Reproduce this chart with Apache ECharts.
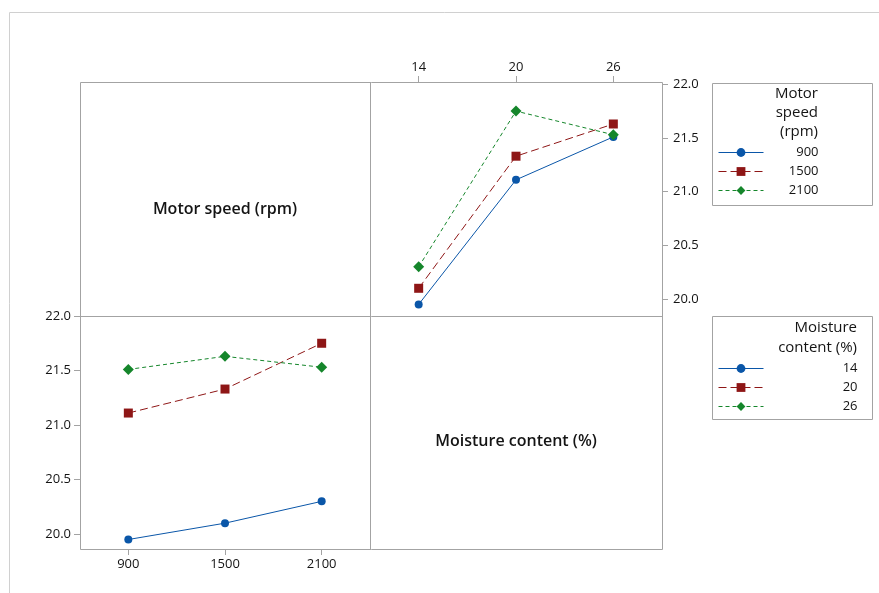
<!DOCTYPE html>
<html>
<head>
<meta charset="utf-8">
<script src="https://cdn.jsdelivr.net/npm/echarts@6/dist/echarts.min.js"></script>
<style>html,body{margin:0;padding:0;background:#fff;}#c{width:879px;height:593px;}</style>
</head>
<body>
<div id="c"></div>
<script>
// Categories
const moisture = ['14', '20', '26'];
const speeds = ['900', '1500', '2100'];
// Mean response for each motor speed across moisture content 14, 20, 26
const speed900 = [19.95, 21.11, 21.51];
const speed1500 = [20.10, 21.33, 21.63];
const speed2100 = [20.30, 21.75, 21.53];
// Tick labels of value axes
const yTicks = [20.0, 20.5, 21.0, 21.5, 22.0];

const rows = [speed900, speed1500, speed2100];
const byMoisture = moisture.map((m, j) => rows.map(r => r[j]));

const FONT = "'Open Sans', 'Noto Sans', sans-serif";
const TXT = '#141414';
const GRAY = '#a3a3a3';
const colors = ['#0a56a8', '#8e1616', '#15862b'];
const symbols = ['circle', 'rect', 'diamond'];
const symSizes = [8, 9, 11];
const dashes = ['solid', [8, 4], [4, 3]];

const chart = echarts.init(document.getElementById('c'), null, {renderer: 'canvas'});

function mkSeries(names, datas, xi, yi) {
  return names.map((n, i) => ({
    name: n, type: 'line', xAxisIndex: xi, yAxisIndex: yi,
    data: datas[i], symbol: symbols[i], symbolSize: symSizes[i],
    itemStyle: {color: colors[i]},
    lineStyle: {color: colors[i], width: 1, type: dashes[i]},
    emphasis: {disabled: true}, animation: false
  }));
}

const axisLabelBase = {color: TXT, fontSize: 13, fontFamily: FONT};

const option = {
  animation: false,
  grid: [
    {left: 370, top: 82, width: 292, height: 234, show: false},
    {left: 80, top: 316, width: 290, height: 233, show: false}
  ],
  xAxis: [
    {gridIndex: 0, type: 'category', position: 'top', data: moisture, boundaryGap: true,
     axisLine: {show: false}, axisTick: {show: true, alignWithLabel: true, length: 6, lineStyle: {color: GRAY}},
     axisLabel: Object.assign({margin: 8}, axisLabelBase), splitLine: {show: false}},
    {gridIndex: 1, type: 'category', position: 'bottom', data: speeds, boundaryGap: true,
     axisLine: {show: false}, axisTick: {show: true, alignWithLabel: true, length: 6, lineStyle: {color: GRAY}},
     axisLabel: Object.assign({margin: 9}, axisLabelBase), splitLine: {show: false}}
  ],
  yAxis: [
    {gridIndex: 0, type: 'value', position: 'right', min: 19.842, max: 22.021,
     axisLine: {show: false},
     axisTick: {show: true, length: 6, lineStyle: {color: GRAY}, customValues: yTicks},
     axisLabel: Object.assign({margin: 11, customValues: yTicks, formatter: v => v.toFixed(1)}, axisLabelBase),
     splitLine: {show: false}},
    {gridIndex: 1, type: 'value', position: 'left', min: 19.863, max: 22.0,
     axisLine: {show: false},
     axisTick: {show: true, length: 6, lineStyle: {color: GRAY}, customValues: yTicks},
     axisLabel: Object.assign({margin: 9, customValues: yTicks, formatter: v => v.toFixed(1)}, axisLabelBase),
     splitLine: {show: false}}
  ],
  legend: [
    {data: speeds, orient: 'vertical', left: 718, top: 146, itemWidth: 45, itemHeight: 11, itemGap: 6, padding: 0,
     selectedMode: false, lineStyle: {width: 1},
     formatter: n => '{a|' + n + '}',
     textStyle: {rich: {a: {width: 50, align: 'right', fontSize: 13, fontFamily: FONT, color: TXT, lineHeight: 14}}}},
    {data: moisture, orient: 'vertical', left: 718, top: 362, itemWidth: 45, itemHeight: 11, itemGap: 6, padding: 0,
     selectedMode: false, lineStyle: {width: 1},
     formatter: n => '{a|' + n + '}',
     textStyle: {rich: {a: {width: 89, align: 'right', fontSize: 13, fontFamily: FONT, color: TXT, lineHeight: 14}}}}
  ],
  graphic: [
    {type: 'rect', shape: {x: 9.5, y: 12.5, width: 900, height: 700}, style: {fill: 'none', stroke: '#d0d0d0', lineWidth: 1}, z: -10},
    {type: 'rect', shape: {x: 80.5, y: 82.5, width: 582, height: 467}, style: {fill: 'none', stroke: GRAY, lineWidth: 1}, z: 0},
    {type: 'line', shape: {x1: 370.5, y1: 82, x2: 370.5, y2: 550}, style: {stroke: GRAY, lineWidth: 1}, z: 0},
    {type: 'line', shape: {x1: 80, y1: 316.5, x2: 663, y2: 316.5}, style: {stroke: GRAY, lineWidth: 1}, z: 0},
    {type: 'text', x: 225, y: 209, style: {text: 'Motor speed (rpm)', font: "600 16px 'Open Sans', sans-serif", fill: TXT, textAlign: 'center', textVerticalAlign: 'middle'}},
    {type: 'text', x: 516, y: 441, style: {text: 'Moisture content (%)', font: "600 16px 'Open Sans', sans-serif", fill: TXT, textAlign: 'center', textVerticalAlign: 'middle'}},
    {type: 'rect', shape: {x: 712.5, y: 83.5, width: 160, height: 122}, style: {fill: 'none', stroke: GRAY, lineWidth: 1}},
    {type: 'rect', shape: {x: 712.5, y: 316.5, width: 160, height: 103}, style: {fill: 'none', stroke: GRAY, lineWidth: 1}},
    {type: 'text', x: 818, y: 113, style: {text: 'Motor\nspeed\n(rpm)', font: "15px 'Open Sans', sans-serif", lineHeight: 19, fill: TXT, textAlign: 'right', textVerticalAlign: 'middle'}},
    {type: 'text', x: 857, y: 338, style: {text: 'Moisture\ncontent (%)', font: "15px 'Open Sans', sans-serif", lineHeight: 20, fill: TXT, textAlign: 'right', textVerticalAlign: 'middle'}}
  ],
  series: [].concat(mkSeries(speeds, rows, 0, 0), mkSeries(moisture, byMoisture, 1, 1))
};
chart.setOption(option);
</script>
</body>
</html>
